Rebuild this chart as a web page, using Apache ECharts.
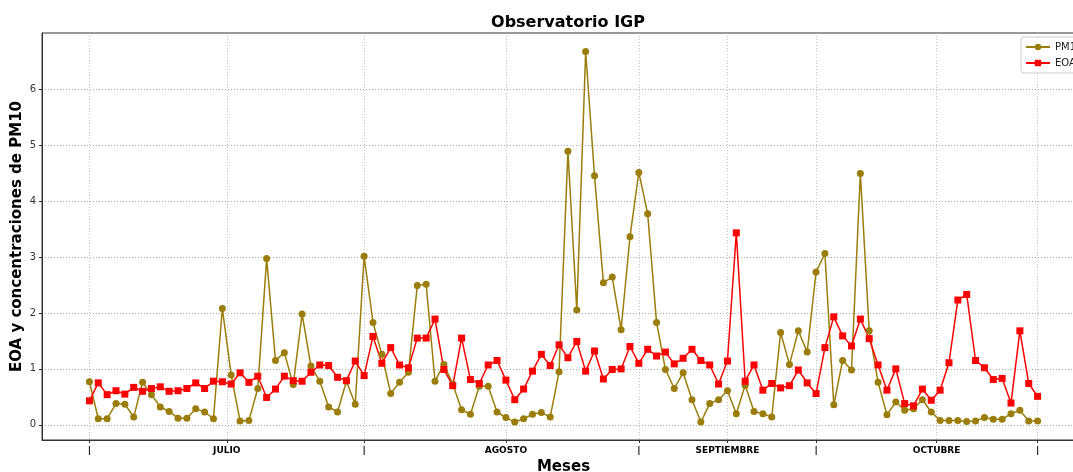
<!DOCTYPE html>
<html>
<head>
<meta charset="utf-8">
<script src="https://cdn.jsdelivr.net/npm/echarts@6/dist/echarts.min.js"></script>
<style>
  html, body { margin: 0; padding: 0; background: #fff; }
  #chart { width: 1073px; height: 472px; }
</style>
</head>
<body>
<div id="chart"></div>
<script>
// valores diarios (indice 0 = 1 de julio)
const pm10 = [
  0.77, 0.11, 0.11, 0.38, 0.37, 0.14, 0.76, 0.54, 0.32, 0.24,
  0.12, 0.12, 0.29, 0.23, 0.11, 2.08, 0.89, 0.07, 0.08, 0.65,
  2.97, 1.15, 1.29, 0.72, 1.98, 1.05, 0.78, 0.32, 0.23, 0.78,
  0.37, 3.01, 1.83, 1.26, 0.56, 0.76, 0.94, 2.49, 2.51, 0.78,
  1.08, 0.73, 0.27, 0.19, 0.69, 0.69, 0.23, 0.13, 0.05, 0.11,
  0.19, 0.22, 0.14, 0.95, 4.89, 2.05, 6.67, 4.45, 2.54, 2.64,
  1.70, 3.36, 4.51, 3.77, 1.83, 0.99, 0.65, 0.93, 0.45, 0.05,
  0.38, 0.45, 0.61, 0.20, 0.71, 0.24, 0.20, 0.14, 1.65, 1.08,
  1.68, 1.30, 2.73, 3.06, 0.36, 1.15, 0.98, 4.49, 1.68, 0.76,
  0.18, 0.41, 0.26, 0.29, 0.45, 0.23, 0.08, 0.08, 0.08, 0.06,
  0.07, 0.13, 0.10, 0.10, 0.20, 0.26, 0.07, 0.07
]
const eoa = [
  0.43, 0.75, 0.54, 0.61, 0.55, 0.67, 0.60, 0.65, 0.68, 0.60,
  0.61, 0.65, 0.75, 0.65, 0.78, 0.77, 0.73, 0.93, 0.76, 0.87,
  0.49, 0.64, 0.87, 0.79, 0.78, 0.94, 1.07, 1.06, 0.85, 0.79,
  1.14, 0.88, 1.58, 1.10, 1.38, 1.07, 1.02, 1.55, 1.55, 1.89,
  0.99, 0.70, 1.55, 0.81, 0.74, 1.07, 1.15, 0.80, 0.45, 0.64,
  0.96, 1.26, 1.06, 1.43, 1.20, 1.49, 0.96, 1.32, 0.82, 0.99,
  1.00, 1.40, 1.10, 1.35, 1.23, 1.30, 1.09, 1.19, 1.35, 1.15,
  1.07, 0.73, 1.14, 3.43, 0.78, 1.07, 0.62, 0.74, 0.66, 0.70,
  0.98, 0.75, 0.56, 1.38, 1.93, 1.59, 1.41, 1.89, 1.54, 1.07,
  0.62, 1.00, 0.38, 0.34, 0.64, 0.44, 0.62, 1.11, 2.23, 2.33,
  1.15, 1.02, 0.81, 0.83, 0.39, 1.68, 0.74, 0.51
]
// posiciones de las marcas del eje x y su texto
const xTickPos = [0, 15.5, 31, 47, 62, 72, 82, 95.6, 107]
const xTickText = ['|', 'JULIO', '|', 'AGOSTO', '|', 'SEPTIEMBRE', '|', 'OCTUBRE', '|']
const yTicks = [0, 1, 2, 3, 4, 5, 6]

const font = 'DejaVu Sans'
const chart = echarts.init(document.getElementById('chart'))

const option = {
  animation: false,
  backgroundColor: '#fff',
  title: {
    text: 'Observatorio IGP',
    left: 563,
    top: 10,
    textAlign: 'center',
    textStyle: { fontFamily: font, fontSize: 16, fontWeight: 'bold', color: '#000' }
  },
  legend: {
    orient: 'vertical',
    left: 1021,
    top: 37,
    itemWidth: 24,
    itemHeight: 8,
    itemGap: 6,
    padding: [5, 6, 5, 4],
    borderColor: '#cccccc',
    borderWidth: 1,
    borderRadius: 3,
    backgroundColor: '#fff',
    textStyle: { fontFamily: font, fontSize: 10, color: '#222' },
    data: ['PM10', 'EOA']
  },
  grid: {
    left: 42,
    top: 33,
    width: 1043,
    height: 407,
    show: true,
    borderColor: '#333',
    borderWidth: 1,
    containLabel: false,
    outerBoundsMode: 'none'
  },
  xAxis: {
    type: 'value',
    min: -5.35,
    max: 112.35,
    name: 'Meses',
    nameLocation: 'middle',
    nameGap: 20,
    nameTextStyle: { fontFamily: font, fontSize: 15, fontWeight: 'bold', color: '#000' },
    axisLine: { onZero: false, lineStyle: { color: '#333' } },
    axisTick: { show: true, length: 3, customValues: xTickPos, lineStyle: { color: '#333' } },
    axisLabel: {
      customValues: xTickPos,
      margin: 6,
      fontFamily: font,
      fontSize: 9,
      fontWeight: 'bold',
      color: '#000',
      formatter: (v) => {
        const i = xTickPos.findIndex((p) => Math.abs(p - v) < 0.01)
        return i >= 0 ? xTickText[i] : ''
      }
    },
    splitLine: { show: true, lineStyle: { color: '#b0b0b0', type: [1, 2], width: 0.8 } }
  },
  yAxis: {
    type: 'value',
    min: -0.27,
    max: 7,
    name: 'EOA y concentraciones de PM10',
    nameLocation: 'middle',
    nameGap: 17,
    nameMoveOverlap: false,
    nameTextStyle: { fontFamily: font, fontSize: 15, fontWeight: 'bold', color: '#000' },
    axisLine: { show: true, onZero: false, lineStyle: { color: '#333' } },
    axisTick: { show: true, length: 3, customValues: yTicks, lineStyle: { color: '#333' } },
    axisLabel: { customValues: yTicks, margin: 6, fontFamily: font, fontSize: 10, color: '#333' },
    splitLine: { show: true, lineStyle: { color: '#999', type: [1, 2], width: 0.8 } }
  },
  series: [
    {
      name: 'PM10',
      type: 'line',
      data: pm10.map((v, i) => [i, v]),
      symbol: 'circle',
      symbolSize: 7,
      lineStyle: { color: '#9a7d0a', width: 1.5 },
      itemStyle: { color: '#9a7d0a' }
    },
    {
      name: 'EOA',
      type: 'line',
      data: eoa.map((v, i) => [i, v]),
      symbol: 'rect',
      symbolSize: 7,
      lineStyle: { color: '#ff0000', width: 1.5 },
      itemStyle: { color: '#ff0000' }
    }
  ]
}

chart.setOption(option)
</script>
</body>
</html>
